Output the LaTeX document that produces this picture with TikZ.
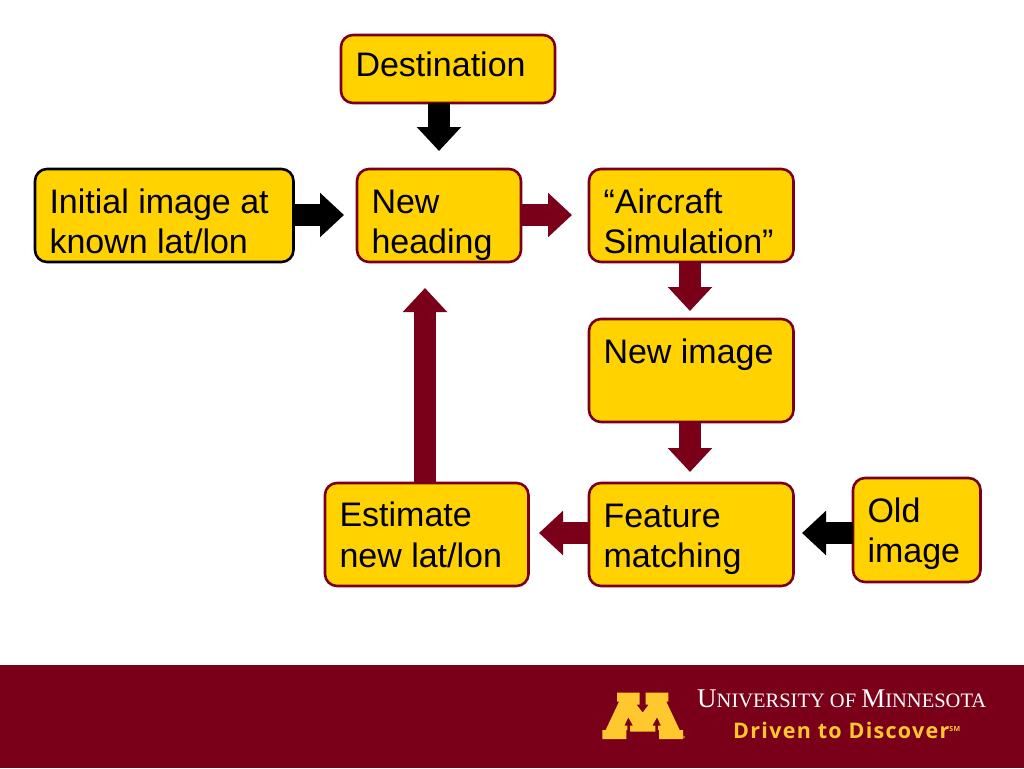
\documentclass[tikz,border=0pt]{standalone}
\usepackage{fontspec}
\usetikzlibrary{arrows.meta}
\setmainfont{Liberation Sans}
\newfontfamily\logoserif{Liberation Serif}
\newfontfamily\logosans[LetterSpace=6]{Open Sans}
\definecolor{gold}{HTML}{FFD200}
\definecolor{maroon}{HTML}{7A0019}
\definecolor{logogold}{HTML}{FFC82E}
\newcommand{\boxtext}[4][44.2]{\parbox[c][#3pt][t]{#2pt}{\fontsize{34}{40.5}\selectfont\raggedright\leftskip=14.5pt\rule{0pt}{#1pt}#4}}
\tikzset{
 x=1pt,y=-1pt,
 flowbox/.style={draw=maroon,fill=gold,line width=2.6pt,rounded corners=12pt,inner sep=0pt,outer sep=0pt,anchor=north west,text=black},
 blackbox/.style={flowbox,draw=black},
 fat/.style={line width=22pt,-{Triangle[length=24pt,width=43pt]}},
 redarrow/.style={fat,draw=maroon,color=maroon},
 blkarrow/.style={fat,draw=black,color=black},
}
\begin{document}
\begin{tikzpicture}
\useasboundingbox (0,0) rectangle (1024,768);
\fill[white] (0,0) rectangle (1024,768);
\fill[maroon] (0,665) rectangle (1024,768);
% boxes
\node[flowbox] (dest) at (341,35) {\boxtext[41.5]{214}{68}{Destination}};
\node[blackbox] (init) at (35,169) {\boxtext{258.5}{93}{Initial image at\\known lat/lon}};
\node[flowbox] (head) at (357,169) {\boxtext{164}{93}{New\\heading}};
\node[flowbox] (sim) at (589,169) {\boxtext{204.5}{93}{“Aircraft\\Simulation”}};
\node[flowbox] (img) at (589,319) {\boxtext{204.5}{103}{New image}};
\node[flowbox] (feat) at (589,483) {\boxtext{204.5}{103}{Feature\\matching}};
\node[flowbox] (est) at (325,483) {\boxtext[43.5]{203.5}{103}{Estimate\\new lat/lon}};
\node[flowbox] (old) at (853,478) {\boxtext{127.5}{104}{Old\\image}};
% arrow tips
\coordinate (tdest) at (439,151);
\coordinate (tinit) at (344,215);
\coordinate (thead) at (572,215);
\coordinate (tsim) at (690,311);
\coordinate (timg) at (690,472);
\coordinate (tfeat) at (539,533);
\coordinate (told) at (802,533);
\coordinate (test) at (425,288);
\draw[blkarrow] (dest.south -| tdest) -- (tdest);
\draw[blkarrow] (init.east |- tinit) -- (tinit);
\draw[redarrow] (head.east |- thead) -- (thead);
\draw[redarrow] (sim.south -| tsim) -- (tsim);
\draw[redarrow] (img.south -| timg) -- (timg);
\draw[redarrow] (feat.west |- tfeat) -- (tfeat);
\draw[blkarrow] (old.west |- told) -- (told);
\draw[redarrow] (est.north -| test) -- (test);
% logo
\begin{scope}[shift={(595,680)},x=0.3333pt,y=-0.3333pt]
\fill[logogold] (22,177) -- (22,150) -- (32,150) -- (72,65) -- (66,65) -- (66,38) -- (134,38) -- (134,74) -- (125,74) -- (143,98) -- (161,74) -- (152,74) -- (152,38) -- (220,38) -- (220,65) -- (214,65) -- (254,150) -- (264,150) -- (264,177) -- (192,177) -- (192,150) -- (189,150) -- (189,137) -- (198,137) -- (186,112) -- (172,137) -- (181,137) -- (181,155) -- (105,155) -- (105,137) -- (114,137) -- (100,112) -- (88,137) -- (97,137) -- (97,150) -- (94,150) -- (94,177) -- cycle;
\fill[logogold!60!maroon] (267,171) circle[radius=4];
\end{scope}
\node[anchor=base west,inner sep=0pt,text=white] (uni) at (697,707) {\logoserif\fontsize{27}{27}\selectfont U\fontsize{20.5}{27}\selectfont NIVERSITY OF \fontsize{27}{27}\selectfont M\fontsize{20.5}{27}\selectfont INNESOTA};
\node[anchor=base west,inner sep=0pt,text=logogold] (drv) at (733,738) {\logosans\bfseries\fontsize{21.5}{22}\selectfont Driven to Discover\raisebox{7pt}{\fontsize{7}{7}\selectfont SM}};
\end{tikzpicture}
\end{document}
